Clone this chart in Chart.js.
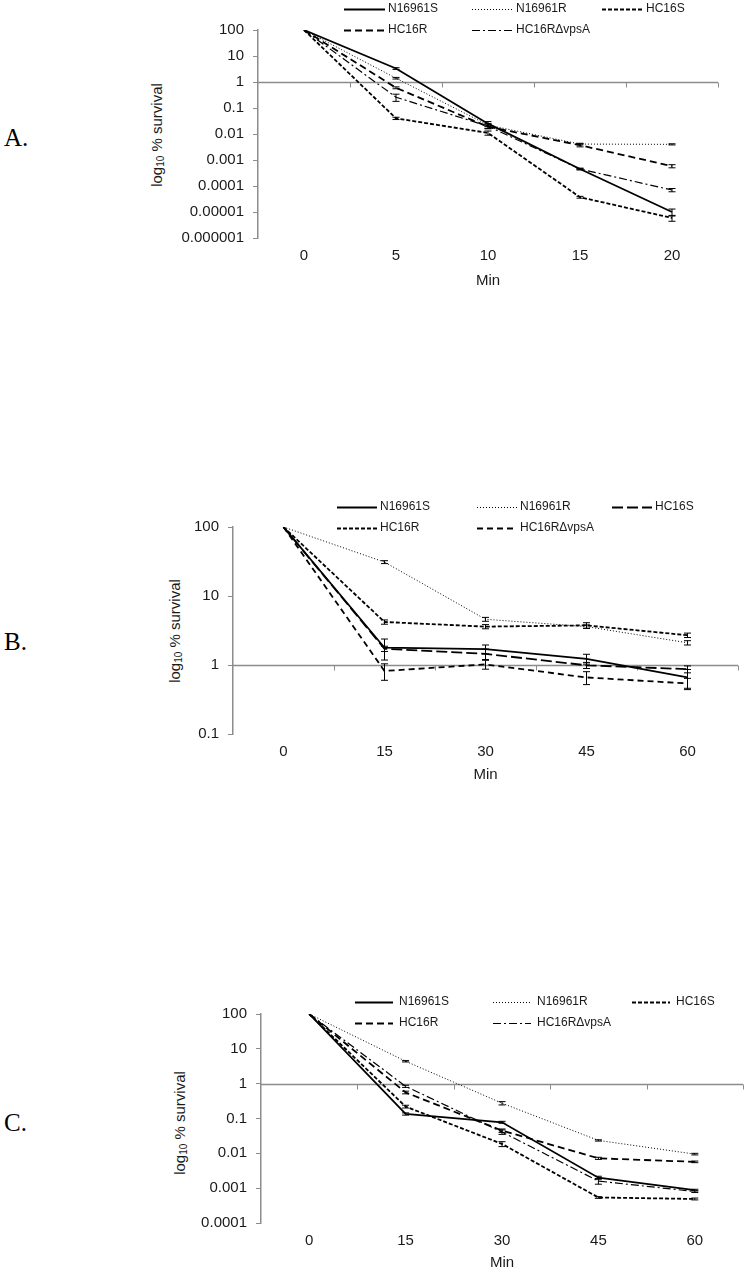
<!DOCTYPE html>
<html><head><meta charset="utf-8">
<script src="https://cdn.jsdelivr.net/npm/chart.js@4.4.1/dist/chart.umd.min.js"></script>
<style>
html,body{margin:0;padding:0;background:#fff;}
body{width:747px;height:1273px;position:relative;overflow:hidden;font-family:"Liberation Sans",Arial,sans-serif;}
canvas{position:absolute;left:0;}
.lbl{position:absolute;left:4px;font-family:"Liberation Serif","Times New Roman",serif;font-size:25px;color:#000;line-height:1;transform:translateY(-50%);}
.ytitle{position:absolute;transform:translate(-50%,-50%) rotate(-90deg);white-space:nowrap;font-size:15px;color:#1a1a1a;line-height:1;}
.ytitle sub{font-size:10px;vertical-align:-2px;}
</style></head>
<body>
<div class="lbl" style="top:137px">A.</div>
<div class="lbl" style="top:641px">B.</div>
<div class="lbl" style="top:1122px">C.</div>
<div class="ytitle" style="left:157px;top:135px">log<sub>10</sub> % survival</div>
<div class="ytitle" style="left:175px;top:631px">log<sub>10</sub> % survival</div>
<div class="ytitle" style="left:180px;top:1123px">log<sub>10</sub> % survival</div>
<canvas id="cA"></canvas>
<canvas id="cB"></canvas>
<canvas id="cC"></canvas>
<script>
// ---------- DATA ----------
const seriesNames = ['N16961S', 'N16961R', 'HC16S', 'HC16R', 'HC16RΔvpsA'];

// Panel A
const minutesA = ['0', '5', '10', '15', '20'];
const yTicksA = [0.000001, 0.00001, 0.0001, 0.001, 0.01, 0.1, 1, 10, 100];
const yTickLabelsA = ['0.000001', '0.00001', '0.0001', '0.001', '0.01', '0.1', '1', '10', '100'];
const aN16961S = [100, 3.3, 0.025, 0.00045, 0.00001];
const aN16961R = [100, 1.4, 0.022, 0.0041, 0.004];
const aHC16S   = [100, 0.04, 0.011, 0.000037, 0.0000059];
const aHC16R   = [100, 0.6, 0.019, 0.0037, 0.00058];
const aHC16RdV = [100, 0.26, 0.02, 0.00045, 0.00007];
const aErrN16961S = [0, 0.25, 0.005, 0.00003, 0.000003];
const aErrN16961R = [0, 0.1, 0.003, 0.0003, 0.0002];
const aErrHC16S   = [0, 0.004, 0.002, 0.000003, 0.0000015];
const aErrHC16R   = [0, 0.05, 0.003, 0.0005, 0.00008];
const aErrHC16RdV = [0, 0.08, 0.004, 0.00003, 0.00001];

// Panel B
const minutesB = ['0', '15', '30', '45', '60'];
const yTicksB = [0.1, 1, 10, 100];
const yTickLabelsB = ['0.1', '1', '10', '100'];
const bN16961S = [100, 1.78, 1.7, 1.23, 0.66];
const bN16961R = [100, 31, 4.6, 3.6, 2.1];
const bHC16S   = [100, 1.72, 1.45, 0.99, 0.87];
const bHC16R   = [100, 4.2, 3.6, 3.75, 2.7];
const bHC16RdV = [100, 0.82, 1.02, 0.66, 0.54];
const bErrN16961S = [0, 0.6, 0.25, 0.2, 0.2];
const bErrN16961R = [0, 1.5, 0.3, 0.2, 0.15];
const bErrHC16S   = [0, 0.15, 0.25, 0.1, 0.1];
const bErrHC16R   = [0, 0.3, 0.25, 0.35, 0.2];
const bErrHC16RdV = [0, 0.22, 0.15, 0.14, 0.1];

// Panel C
const minutesC = ['0', '15', '30', '45', '60'];
const yTicksC = [0.0001, 0.001, 0.01, 0.1, 1, 10, 100];
const yTickLabelsC = ['0.0001', '0.001', '0.01', '0.1', '1', '10', '100'];
const cN16961S = [100, 0.135, 0.078, 0.002, 0.00088];
const cN16961R = [100, 4.4, 0.275, 0.0235, 0.0095];
const cHC16S   = [100, 0.22, 0.0186, 0.00054, 0.00049];
const cHC16R   = [100, 0.56, 0.045, 0.0072, 0.0057];
const cHC16RdV = [100, 0.84, 0.041, 0.0016, 0.0008];
const cErrN16961S = [0, 0.01, 0.005, 0.0002, 0.00005];
const cErrN16961R = [0, 0.2, 0.03, 0.001, 0.0005];
const cErrHC16S   = [0, 0.02, 0.003, 0.00003, 0.00003];
const cErrHC16R   = [0, 0.05, 0.005, 0.0005, 0.0003];
const cErrHC16RdV = [0, 0.06, 0.006, 0.0003, 0.00005];

// ---------- STYLES ----------
const FONT = '"Liberation Sans", Arial, sans-serif';
const AXIS_GRAY = '#8c8c8c';
const stylesAC = [
  {w: 1.8, dash: []},
  {w: 1, dash: [1, 2]},
  {w: 1.8, dash: [4, 2]},
  {w: 1.8, dash: [7, 4]},
  {w: 1.2, dash: [8, 3, 2, 3]}
];
const stylesB = [
  {w: 1.8, dash: []},
  {w: 1, dash: [1, 2]},
  {w: 1.8, dash: [11, 4]},
  {w: 1.8, dash: [4, 2]},
  {w: 1.8, dash: [6, 4]}
];

const errorBarPlugin = {
  id: 'errorBars',
  afterDatasetsDraw(chart) {
    const ctx = chart.ctx, xs = chart.scales.x, ys = chart.scales.y;
    ctx.save();
    ctx.strokeStyle = '#000'; ctx.lineWidth = 1; ctx.setLineDash([]);
    chart.data.datasets.forEach(ds => {
      (ds.err || []).forEach((e, i) => {
        if (!e) return;
        const v = ds.data[i];
        const x = xs.getPixelForValue(i);
        const y1 = ys.getPixelForValue(v + e);
        const y2 = ys.getPixelForValue(Math.max(v - e, v * 0.05));
        ctx.beginPath();
        ctx.moveTo(x, y1); ctx.lineTo(x, y2);
        ctx.moveTo(x - 3.5, y1); ctx.lineTo(x + 3.5, y1);
        ctx.moveTo(x - 3.5, y2); ctx.lineTo(x + 3.5, y2);
        ctx.stroke();
      });
    });
    ctx.restore();
  }
};

const crossLinePlugin = {
  id: 'crossLine',
  beforeDatasetsDraw(chart) {
    const ctx = chart.ctx, xs = chart.scales.x, ys = chart.scales.y, a = chart.chartArea;
    const y = Math.round(ys.getPixelForValue(1)) + 0.5;
    ctx.save();
    ctx.strokeStyle = AXIS_GRAY; ctx.lineWidth = 1.5;
    ctx.beginPath(); ctx.moveTo(a.left, y); ctx.lineTo(a.right, y); ctx.stroke();
    ctx.lineWidth = 1;
    const n = chart.data.labels.length;
    for (let i = 0; i < n; i++) {
      const xb = i < n - 1 ? (xs.getPixelForValue(i) + xs.getPixelForValue(i + 1)) / 2 : a.right;
      ctx.beginPath(); ctx.moveTo(Math.round(xb) + 0.5, y); ctx.lineTo(Math.round(xb) + 0.5, y + 5); ctx.stroke();
    }
    ctx.restore();
  }
};

const legendPlugin = {
  id: 'customLegend',
  afterDraw(chart, args, opts) {
    const ctx = chart.ctx;
    ctx.save();
    ctx.font = '12px ' + FONT;
    ctx.textBaseline = 'middle';
    ctx.fillStyle = '#1a1a1a';
    chart.data.datasets.forEach((ds, i) => {
      const row = i < 3 ? 0 : 1, col = i < 3 ? i : i - 3;
      const x = opts.cols[col], y = opts.rows[row] - opts.top;
      ctx.strokeStyle = '#000'; ctx.lineWidth = ds.borderWidth; ctx.setLineDash(ds.borderDash);
      ctx.beginPath(); ctx.moveTo(x, y + 0.5); ctx.lineTo(x + opts.len, y + 0.5); ctx.stroke();
      ctx.setLineDash([]);
      ctx.fillText(ds.label, x + opts.len + opts.gap, y);
    });
    ctx.restore();
  }
};

function makeChart(p) {
  const canvas = document.getElementById(p.id);
  const W = 747, H = p.canvasBottom - p.top;
  canvas.width = W; canvas.height = H;
  canvas.style.top = p.top + 'px';
  canvas.style.width = W + 'px'; canvas.style.height = H + 'px';
  new Chart(canvas, {
    type: 'line',
    data: {
      labels: p.labels,
      datasets: p.values.map((vals, i) => ({
        label: seriesNames[i], data: vals, err: p.errs[i],
        borderColor: '#000', backgroundColor: '#000',
        borderWidth: p.styles[i].w, borderDash: p.styles[i].dash,
        pointRadius: 0, fill: false, tension: 0
      }))
    },
    options: {
      responsive: false, animation: false, devicePixelRatio: 1,
      layout: {padding: {left: 0, right: W - p.right, top: p.plotTop - p.top, bottom: 0}},
      plugins: {
        legend: {display: false}, tooltip: {enabled: false},
        customLegend: {rows: p.legRows, cols: p.legCols, len: p.legLen, gap: p.legGap, top: p.top}
      },
      scales: {
        x: {
          type: 'category', offset: true,
          grid: {display: false, drawTicks: false}, border: {display: false},
          ticks: {color: '#1a1a1a', font: {size: 15, family: FONT}, padding: 9, maxRotation: 0, autoSkip: false},
          title: {display: true, text: 'Min', color: '#1a1a1a', font: {size: 15, family: FONT}, padding: {top: 0, bottom: 0}},
          afterFit: s => { s.height = p.canvasBottom - p.plotBottom; }
        },
        y: {
          type: 'logarithmic', min: p.yTicks[0], max: p.yTicks[p.yTicks.length - 1],
          afterBuildTicks: s => { s.ticks = p.yTicks.map(v => ({value: v})); },
          ticks: {color: '#1a1a1a', font: {size: 15, family: FONT}, padding: 9,
                  callback: (v, i) => p.yLabels[i]},
          grid: {drawOnChartArea: false, drawTicks: true, tickLength: 5, color: AXIS_GRAY, lineWidth: 1},
          border: {display: true, color: AXIS_GRAY, width: 1.5},
          afterFit: s => { s.width = p.left; }
        }
      }
    },
    plugins: [crossLinePlugin, errorBarPlugin, legendPlugin]
  });
}

makeChart({
  id: 'cA', top: 0, canvasBottom: 290, plotTop: 30, plotBottom: 238, left: 258, right: 718,
  labels: minutesA, yTicks: yTicksA, yLabels: yTickLabelsA,
  values: [aN16961S, aN16961R, aHC16S, aHC16R, aHC16RdV],
  errs: [aErrN16961S, aErrN16961R, aErrHC16S, aErrHC16R, aErrHC16RdV],
  styles: stylesAC, legRows: [9, 30], legCols: [344, 472, 602], legLen: 41, legGap: 3
});
makeChart({
  id: 'cB', top: 490, canvasBottom: 784, plotTop: 527, plotBottom: 734, left: 233, right: 738,
  labels: minutesB, yTicks: yTicksB, yLabels: yTickLabelsB,
  values: [bN16961S, bN16961R, bHC16S, bHC16R, bHC16RdV],
  errs: [bErrN16961S, bErrN16961R, bErrHC16S, bErrHC16R, bErrHC16RdV],
  styles: stylesB, legRows: [507, 528], legCols: [337, 477, 612], legLen: 40, legGap: 3
});
makeChart({
  id: 'cC', top: 985, canvasBottom: 1272, plotTop: 1014, plotBottom: 1223, left: 261, right: 743,
  labels: minutesC, yTicks: yTicksC, yLabels: yTickLabelsC,
  values: [cN16961S, cN16961R, cHC16S, cHC16R, cHC16RdV],
  errs: [cErrN16961S, cErrN16961R, cErrHC16S, cErrHC16R, cErrHC16RdV],
  styles: stylesAC, legRows: [1002, 1023], legCols: [355, 493, 632], legLen: 38, legGap: 6
});
</script>
</body></html>
